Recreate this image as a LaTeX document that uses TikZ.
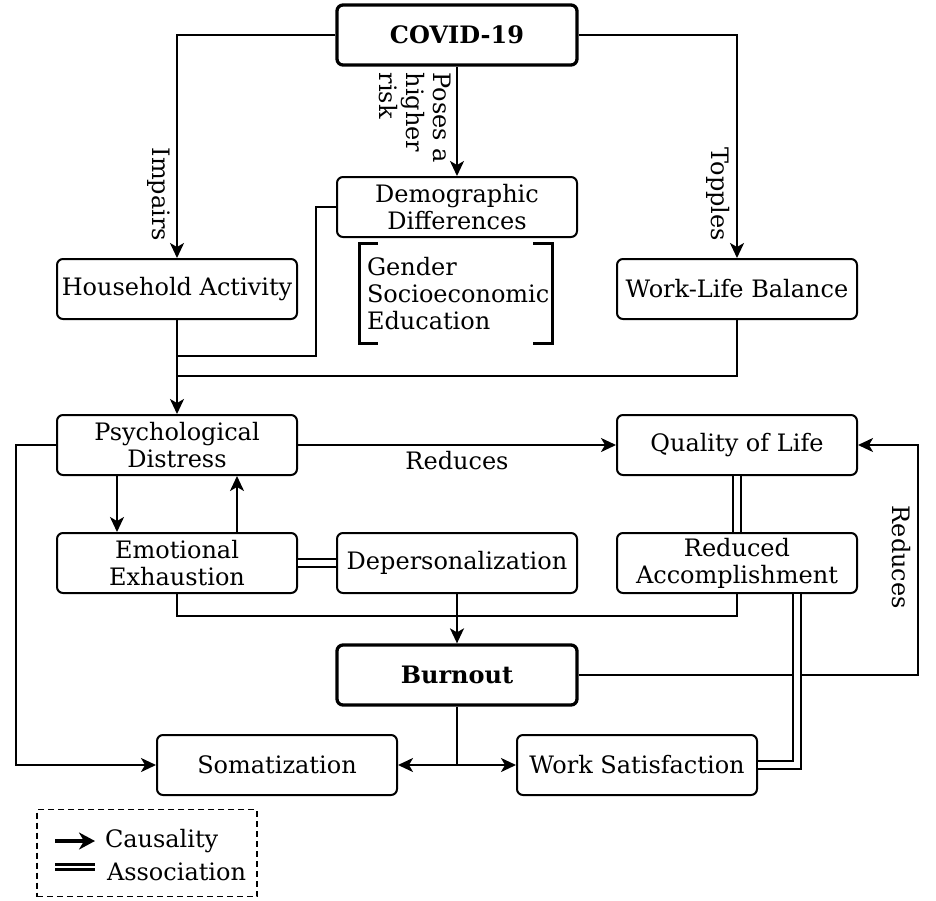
\documentclass[tikz,border=0pt]{standalone}
\usepackage{fontspec}
\setmainfont{DejaVu Serif}
\usetikzlibrary{positioning,arrows.meta,calc}

\begin{document}
\begin{tikzpicture}[x=1pt,y=-1pt,line width=2pt,
  font=\fontsize{24}{27}\selectfont,
  box/.style={draw,rounded corners=6pt,minimum width=240pt,minimum height=60pt,align=center,inner sep=1pt},
  boldbox/.style={box,line width=3.3pt,font=\fontsize{24}{27}\selectfont\bfseries},
  causal/.style={-{Stealth[length=15pt,width=14pt,inset=4pt]}},
  assoc/.style={double,double distance=5.5pt},
  sidelbl/.style={rotate=-90,inner sep=6pt}]
\useasboundingbox (0,0) rectangle (936,900);
% ---- boxes ----
\node[boldbox] (covid) at (457,35) {COVID-19};
\node[box] (demo) at (457,207) {Demographic\\Differences};
\node[box] (house) at (177,289) {Household Activity};
\node[box] (wlb) at (737,289) {Work-Life Balance};
\node[box] (psych) at (177,445) {Psychological\\Distress};
\node[box] (qual) at (737,445) {Quality of Life};
\node[box] (emo) at (177,563) {Emotional\\Exhaustion};
\node[box] (deper) at (457,563) {Depersonalization};
\node[box] (reduced) at (737,563) {Reduced\\Accomplishment};
\node[boldbox] (burn) at (457,675) {Burnout};
\node[box] (soma) at (277,765) {Somatization};
\node[box] (work) at (637,765) {Work Satisfaction};
% ---- demographic factors ----
\node[align=left,inner sep=0pt,anchor=west] (demoList) at (366,294) {Gender\\Socioeconomic\\Education};
\draw[line width=3pt] (378,243) -- (359,243) -- (359,343) -- (378,343);
\draw[line width=3pt] (533,243) -- (552,243) -- (552,343) -- (533,343);
% ---- causal links from COVID-19 ----
\draw[causal] (covid.west) -| (house.north) node[pos=0.857,sidelbl,anchor=north] {Impairs};
\draw[causal] (covid.east) -| (wlb.north) node[pos=0.857,sidelbl,anchor=north] {Topples};
\draw[causal] (covid) -- (demo) node[pos=0,sidelbl,anchor=north west,align=left,inner sep=5pt] {Poses a\\higher\\risk};
% ---- into psychological distress ----
\coordinate (joinA) at ($(house.south)+(0,36)$);
\coordinate (joinB) at ($(house.south)+(0,56)$);
\draw (demo.west) -- ++(-20,0) |- (joinA);
\draw (wlb.south) |- (joinB);
\draw[causal] (house.south) -- (psych.north);
\draw[causal] (psych) -- (qual) node[midway,below,inner sep=5pt] {Reduces};
\draw[causal] ([xshift=-60pt]psych.south) -- ([xshift=-60pt]emo.north);
\draw[causal] ([xshift=60pt]emo.north) -- ([xshift=60pt]psych.south);
\draw[causal] (psych.west) -- ++(-40,0) |- (soma.west);
% ---- burnout ----
\draw[assoc] (emo) -- (deper);
\draw[assoc] (qual) -- (reduced);
\coordinate (burnJoin) at ($(deper.south)+(0,22)$);
\draw (emo.south) |- (burnJoin);
\draw (reduced.south) |- (burnJoin);
\draw[causal] (deper.south) -- (burn.north);
\draw[causal] (burn.east) -| ([xshift=60pt]qual.east) node[pos=0.756,sidelbl,anchor=north] {Reduces} -- (qual.east);
\draw[causal] (burn.south) |- (soma.east);
\draw[causal] (burn.south) |- (work.west);
\draw[assoc] ([xshift=60pt]reduced.south) |- (work.east);
% ---- legend ----
\node[draw,line width=1.5pt,dash pattern=on 6pt off 4pt,minimum width=220pt,minimum height=87pt] (legend) at (147,853) {};
\node[anchor=base west,inner sep=0pt] (lgCaus) at (104,847) {Causality};
\node[anchor=base west,inner sep=0pt] (lgAssoc) at (106,880) {Association};
\coordinate (lgC1) at (55,841);
\coordinate (lgC2) at (95,841);
\coordinate (lgA1) at (55,867);
\coordinate (lgA2) at (95,867);
\draw[-{Stealth[length=16pt,width=17pt,inset=5pt]},line width=3.3pt] (lgC1) -- (lgC2);
\draw[double,line width=3pt,double distance=2.5pt] (lgA1) -- (lgA2);
\end{tikzpicture}
\end{document}
